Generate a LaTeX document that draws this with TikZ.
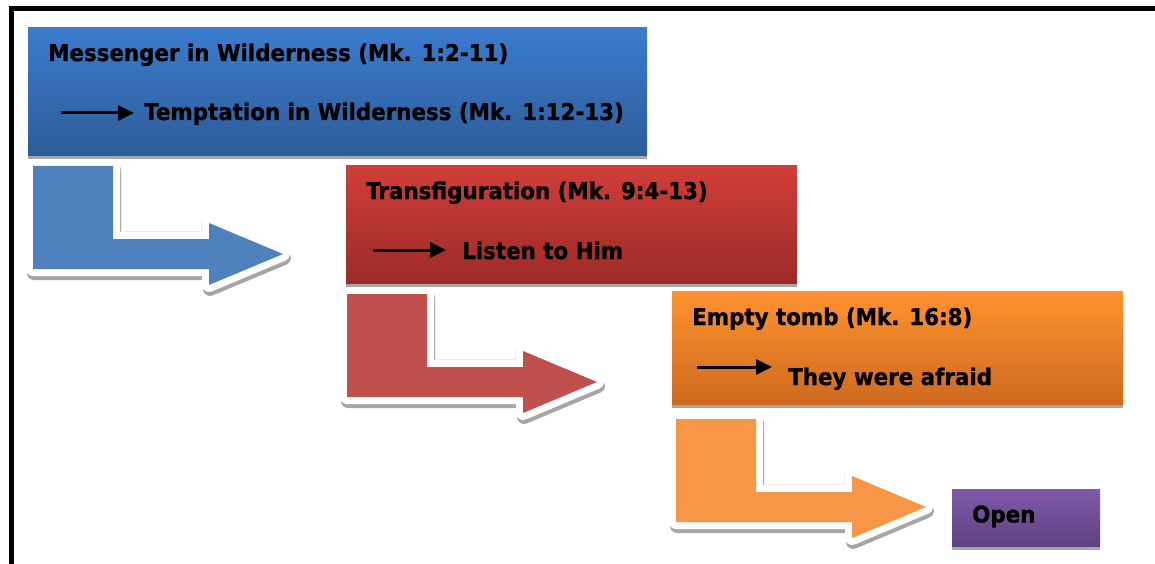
\documentclass[tikz,border=0pt]{standalone}
\usepackage{fontspec}
\usetikzlibrary{arrows.meta,shadows}
\newfontfamily\lblfont[FakeStretch=0.93,FakeBold=1]{DejaVu Sans}

\definecolor{blueTop}{HTML}{3B7CCE}
\definecolor{blueBot}{HTML}{2D5C98}
\definecolor{redTop}{HTML}{D13E39}
\definecolor{redBot}{HTML}{9C2A28}
\definecolor{orangeTop}{HTML}{FF922F}
\definecolor{orangeBot}{HTML}{CE6A1F}
\definecolor{purpleTop}{HTML}{8059AA}
\definecolor{purpleBot}{HTML}{5F4281}
\definecolor{shadowGray}{HTML}{A6A6A6}
\definecolor{bentBlue}{HTML}{4F81BD}
\definecolor{bentRed}{HTML}{C0504D}
\definecolor{bentOrange}{HTML}{F79646}

\tikzset{
  stagebox/.style={rectangle, anchor=north west, inner sep=0pt, draw=none,
    drop shadow={shadow xshift=0pt, shadow yshift=-4pt, fill=shadowGray, opacity=1}},
  label/.style={anchor=base west, inner sep=0pt, text=black,
    font=\lblfont\bfseries\fontsize{23}{27}\selectfont},
  pointer/.style={line width=3pt, -{Triangle[length=16pt,width=15pt]}},
  bentarrow/.pic={
    % soft shadow, white rim, then the coloured L-shaped arrow
    \def\bentpath{(0,0) -- (80,0) -- (80,73) -- (176,73) -- (176,57) -- (250,88)
      -- (176,119) -- (176,103) -- (0,103) -- cycle}
    \filldraw[shadowGray, line width=14pt, line join=round, shift={(1,4)}] \bentpath;
    \filldraw[white, line width=14pt, line join=round] \bentpath;
    \draw[black!8, line width=0.8pt] (88,8) -- (88,65) (90,65) -- (168,65) -- (168,55);
    \fill[pic actions] \bentpath;
  }
}

\begin{document}
\begin{tikzpicture}[x=1pt, y=-1pt]
  \useasboundingbox (0,0) rectangle (1155,564);
  \fill[white] (0,0) rectangle (1155,564);

  % outer frame (top and left edges)
  \begin{scope}
    \clip (0,0) rectangle (1155,564);
    \draw[line width=5pt] (11,580) -- (11,9) -- (1170,9);
  \end{scope}

  % stage boxes
  \node[stagebox, top color=blueTop, bottom color=blueBot,
        minimum width=619pt, minimum height=128pt] (b1) at (28,27) {};
  \node[stagebox, top color=redTop, bottom color=redBot,
        minimum width=451pt, minimum height=118pt] (b2) at (346,165) {};
  \node[stagebox, top color=orangeTop, bottom color=orangeBot,
        minimum width=451pt, minimum height=113pt] (b3) at (672,291) {};
  \node[stagebox, top color=purpleTop, bottom color=purpleBot,
        minimum width=148pt, minimum height=57pt] (b4) at (952,489) {};

  % bent arrows leading from stage to stage
  \pic[fill=bentBlue] at (33,166) {bentarrow};
  \pic[fill=bentRed] at (347,294) {bentarrow};
  \pic[fill=bentOrange] at (676,419) {bentarrow};

  % texts
  \node[label] (t1) at (48,61) {Messenger in Wilderness (Mk. 1:2-11)};
  \node[label] (t2) at (144,120) {Temptation in Wilderness (Mk. 1:12-13)};
  \node[label] (t3) at (366,199) {Transfiguration (Mk. 9:4-13)};
  \node[label] (t4) at (462,259) {Listen to Him};
  \node[label] (t5) at (692,325) {Empty tomb (Mk. 16:8)};
  \node[label] (t6) at (788,385) {They were afraid};
  \node[label] (t7) at (972,522.5) {Open};

  % small pointers before the second lines
  \coordinate (p1s) at (61,113);  \coordinate (p1e) at (134,113);
  \coordinate (p2s) at (373,250); \coordinate (p2e) at (446,250);
  \coordinate (p3s) at (697,367); \coordinate (p3e) at (772,367);
  \draw[pointer] (p1s) -- (p1e);
  \draw[pointer] (p2s) -- (p2e);
  \draw[pointer] (p3s) -- (p3e);
\end{tikzpicture}
\end{document}
